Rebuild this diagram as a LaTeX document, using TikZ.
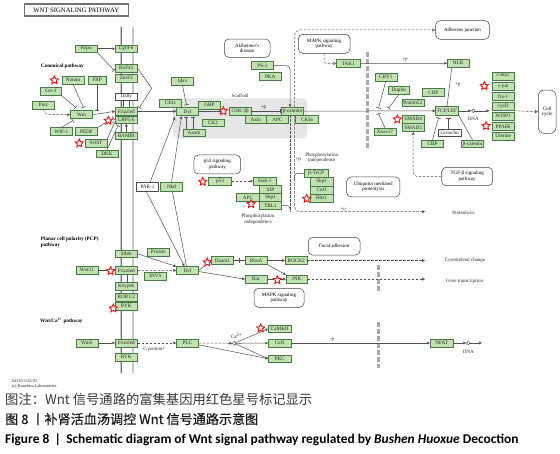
\documentclass[tikz,border=0pt]{standalone}
\usepackage{fontspec}
\usetikzlibrary{arrows.meta,shapes.geometric}
\setmainfont{Liberation Serif}
\newfontfamily\kf{Liberation Serif}
\newfontfamily\cjkf{Noto Sans CJK SC}
\newfontfamily\capf{Carlito}
\definecolor{boxg}{RGB}{191,226,176}
\definecolor{boxd}{RGB}{72,122,72}
\definecolor{lnc}{RGB}{80,80,80}
\definecolor{scaf}{RGB}{230,230,230}
\definecolor{memg}{RGB}{170,170,170}
\definecolor{kred}{RGB}{235,20,20}
\begin{document}
\begin{tikzpicture}[x=1pt,y=-1pt,
 gb/.style={draw=boxd, fill=boxg, line width=0.5pt, minimum width=22pt, minimum height=7.6pt, inner sep=0pt, font=\kf\fontsize{5.2}{5.6}\selectfont, text=black!85},
 wb/.style={gb, fill=white, draw=black!70},
 mb/.style={draw=black!75, line width=0.5pt, rounded corners=4.5pt, fill=white, align=center, inner sep=0pt, font=\kf\fontsize{5}{5.6}\selectfont},
 tx/.style={font=\kf\fontsize{5}{5.6}\selectfont, inner sep=0pt, align=center, text=black!85},
 bt/.style={font=\kf\bfseries\fontsize{5.2}{5.8}\selectfont, inner sep=0pt, align=left, anchor=west},
 ks/.style={star, star points=5, star point ratio=2.1, draw=kred, fill=white, line width=0.9pt, minimum size=8.5pt, inner sep=0pt},
 dn/.style={circle, draw=lnc, fill=white, line width=0.5pt, minimum size=3.6pt, inner sep=0pt},
 cn/.style={draw=lnc, line width=0.5pt},
 ar/.style={cn, -{Triangle[length=2.8pt,width=2.6pt]}},
 ih/.style={cn, -{Bar[width=4.5pt,line width=0.6pt]}},
 da/.style={cn, dash pattern=on 2.5pt off 1.5pt},
 dar/.style={da, -{Triangle[length=2.8pt,width=2.6pt]}},
 dop/.style={da, -{Triangle[open,length=3pt,width=3pt,line width=0.5pt]}},
 gd/.style={draw=memg, line width=2.6pt, dash pattern=on 5pt off 2pt},
]
\useasboundingbox (0,0) rectangle (560,454);
\fill[white] (0,0) rectangle (560,454);

% scaffold region
\fill[scaf, rounded corners=6pt] (173,98.3) rectangle (307.3,138.3);
% membranes
\foreach \mx in {120.8,133} {
  \draw[line width=2.6pt, black!55] (\mx,27) -- (\mx,373);
  \draw[line width=1.2pt, black!22] (\mx,27) -- (\mx,373);
}
% nuclear membrane
\draw[gd] (367.3,52) -- (367.3,150);
\draw[gd] (378.3,265) -- (378.3,293);
\draw[gd] (378.3,322) -- (378.3,368);

% title
\node[draw=black!55, line width=1.1pt, minimum width=104pt, minimum height=12pt, inner sep=0pt, font=\kf\fontsize{6.7}{7}\selectfont] (title) at (76.2,10) {WNT SIGNALING PATHWAY};

% ---------- map links ----------
\node[mb, minimum width=45.7pt, minimum height=18.3pt] (alz) at (247.2,48.2) {Alzheimer's\\disease};
\node[mb, minimum width=51.7pt, minimum height=19pt] (mapk1) at (324.2,43.8) {MAPK signaling\\pathway};
\node[mb, minimum width=53.6pt, minimum height=18.6pt] (adh) at (462.5,30) {Adherens junction};
\node[mb, minimum width=17.7pt, minimum height=43.3pt, rounded corners=6pt] (cellc) at (547.2,111.7) {Cell\\cycle};
\node[mb, minimum width=46.7pt, minimum height=19pt] (p53p) at (217.3,164.5) {p53 signaling\\pathway};
\node[mb, minimum width=53.3pt, minimum height=20pt] (ubq) at (373.3,187) {Ubiquitin mediated\\proteolysis};
\node[mb, minimum width=51pt, minimum height=18.4pt] (tgf) at (467.2,176.5) {TGF-β signaling\\pathway};
\node[mb, minimum width=51.7pt, minimum height=17.7pt] (focal) at (334.2,246.2) {Focal adhesion};
\node[mb, minimum width=50pt, minimum height=19pt] (mapk2) at (279,297.8) {MAPK signaling\\pathway};

% ---------- canonical ----------
\node[gb] (rspo) at (86.3,48.7) {Rspo};
\node[gb] (lgr) at (126.3,48.7) {Lgr4-6};
\node[gb] (rnf) at (126.3,68) {RnF43};
\node[gb] (znrf) at (126.3,78.3) {ZnrF3};
\node[gb] (notum) at (73,80) {Notum};
\node[gb, minimum width=17.7pt] (frp) at (97.2,80) {FRP};
\node[gb, minimum width=20.3pt] (cer) at (50.8,91.2) {Cer-1};
\node[wb, minimum height=6.8pt] (dally) at (126.3,96.7) {Dally};
\node[gb] (porc) at (43.7,105) {Porc};
\node[gb, minimum height=8pt] (wnt) at (81.5,114.7) {Wnt};
\node[gb] (fz1) at (126.3,111.3) {Frizzled};
\node[gb] (lrp) at (126.3,119.7) {LRP5/6};
\node[gb] (wif) at (61.3,131.5) {WIF-1};
\node[gb] (pedf) at (86.5,131.5) {PEDF};
\node[gb] (bambi) at (126.3,135.8) {BAMBI};
\node[gb] (sost) at (96,143) {SOST};
\node[gb] (dkk) at (107,153.7) {DKK};
\node[gb, minimum width=21.6pt, minimum height=7.8pt] (idax) at (182.5,81.2) {Idax};
\node[gb] (ckie) at (170.5,103.2) {CKIε};
\node[gb] (dvl) at (187.5,111.3) {Dvl};
\node[gb, minimum height=8pt] (gbp) at (209.5,105) {GBP};
\node[gb] (ck2) at (212.8,122.8) {CK2};
\node[gb] (axam) at (194,132.8) {Axam};
\node[gb] (gsk) at (240.2,111.2) {GSK-3β};
\node[gb, minimum width=21.7pt] (axin) at (255.8,119.5) {Axin};
\node[gb, minimum width=21.7pt] (apc) at (277.5,119.5) {APC};
\node[gb] (bcat) at (292.5,111.2) {β-catenin};
\node[gb, minimum width=22.6pt] (ckia) at (307,119.5) {CKIα};
\node[gb] (ps1) at (262.5,65.5) {PS-1};
\node[gb, minimum height=8.2pt] (pka) at (270.2,76.5) {PKA};
\node[gb, minimum width=23.3pt] (tak1) at (348.3,63.5) {TAK1};
\node[gb] (nlk) at (458.3,63.3) {NLK};
\node[gb] (cby) at (385.8,77.2) {CBY1};
\node[gb, minimum width=21pt] (duplin) at (398.8,90.5) {Duplin};
\node[gb, minimum width=21.3pt, minimum height=8.2pt] (cbp1) at (433.3,92.5) {CBP};
\node[gb] (pontin) at (412.8,102.8) {Pontin52};
\node[gb, minimum width=22.6pt, minimum height=8.2pt] (tcf) at (447,110.8) {TCF/LEF};
\node[gb, minimum width=21.7pt, minimum height=8.3pt] (smad4) at (413.2,119.2) {SMAD4};
\node[gb, minimum width=21.7pt, minimum height=8.3pt] (smad3) at (413.2,127.5) {SMAD3};
\node[gb] (sox) at (385,131.7) {Xsox17};
\node[wb, minimum width=22.7pt] (groucho) at (449.7,132.8) {Groucho};
\node[gb, minimum width=21.6pt] (cbp2) at (432.5,143.8) {CBP};
\node[gb, minimum width=21.6pt] (bcat2) at (472.5,143.8) {β-catenin};
% target genes
\node[gb, minimum width=21.7pt, minimum height=7.7pt] (myc) at (503.2,76.2) {c-myc};
\node[gb, minimum width=21.7pt, minimum height=7.7pt] (jun) at (503.2,86.2) {c-jun};
\node[gb, minimum width=21.7pt, minimum height=7.7pt] (fra) at (503.2,96.3) {fra-1};
\node[gb, minimum width=21.7pt, minimum height=7.7pt] (cycd) at (503.2,106.3) {cycD};
\node[gb, minimum width=21.7pt, minimum height=7.7pt] (wisp) at (503.2,116.3) {WISP1};
\node[gb, minimum width=21.7pt, minimum height=7.7pt] (ppar) at (503.2,126.3) {PPARδ};
\node[gb, minimum width=21.7pt, minimum height=7.7pt] (uter) at (503.2,136.3) {Uterine};

% ---------- middle ----------
\node[wb, minimum width=21.6pt, minimum height=9pt] (par1) at (147.5,187.2) {PAR-1};
\node[gb, minimum width=21.6pt, minimum height=9pt] (nkd) at (171.5,187.2) {Nkd};
\node[gb, minimum width=23.3pt] (p53) at (220,181.2) {p53};
\node[gb, minimum width=22.7pt] (siah) at (264.7,181.2) {Siah-1};
\node[gb, minimum height=8pt] (sip) at (270.5,189.5) {SIP};
\node[gb, minimum width=22.6pt, minimum height=8.3pt] (apc2) at (248,197.5) {APC};
\node[gb, minimum height=8.3pt] (skp1a) at (270.5,197.5) {Skp1};
\node[gb, minimum height=7.8pt] (tbl1) at (270.5,205.5) {TBL1};
\node[gb, minimum width=24.3pt, minimum height=8pt] (btrcp) at (316.2,173.3) {β-TrCP};
\node[gb, minimum width=23.3pt, minimum height=8.3pt] (skp1b) at (321.7,181.7) {Skp1};
\node[gb, minimum width=23.3pt, minimum height=8.3pt] (cul1) at (321.7,190) {Cul1};
\node[gb, minimum width=23.3pt, minimum height=8.3pt] (rbx1) at (321.7,198.2) {Rbx1};

% ---------- PCP ----------
\node[gb] (stbm) at (126.3,253.8) {Stbm};
\node[gb] (prickle) at (158.3,252.2) {Prickle};
\node[gb] (wnt11) at (86.8,270.3) {Wnt11};
\node[gb] (fz2) at (126.3,270.3) {Frizzled};
\node[gb] (invs) at (155.5,276.3) {INVS};
\node[gb] (dvl2) at (187.5,270.5) {Dvl};
\node[gb] (knypek) at (126.3,286.3) {Knypek};
\node[gb] (ror) at (126.3,297) {ROR1/2};
\node[gb] (ryk1) at (126.3,306.2) {RYK};
\node[gb] (daam) at (222.5,260.5) {Daam1};
\node[gb] (rhoa) at (256.2,260.5) {RhoA};
\node[gb] (rock) at (296.2,260.5) {ROCK2};
\node[gb, minimum height=8.3pt] (rac) at (256.2,279.2) {Rac};
\node[gb, minimum width=21.3pt, minimum height=8.3pt] (jnk) at (296.7,279.2) {JNK};

% ---------- Ca2+ ----------
\node[gb] (wnt5) at (86.8,343) {Wnt5};
\node[gb] (fz3) at (126.3,343) {Frizzled};
\node[gb] (ryk2) at (126.3,357.2) {RYK};
\node[gb] (plc) at (187.5,343) {PLC};
\node[gb, minimum width=22.7pt] (camk) at (279.7,328.8) {CaMKII};
\node[gb, minimum width=22.7pt] (can) at (279.7,343) {CaN};
\node[gb, minimum width=22.7pt] (pkc) at (279.7,358.7) {PKC};
\node[gb, minimum width=23.3pt] (nfat) at (441.7,343) {NFAT};
\node[dn] (ca) at (234.3,343.3) {};
\node[dn] (dna1) at (473.3,110.8) {};
\node[dn] (dna2) at (468.3,343) {};

% ---------- labels ----------
\node[bt] (lcan) at (40.7,66) {Canonical pathway};
\node[bt] (lpcp) at (40.7,242.5) {Planar cell polarity (PCP)\\pathway};
\node[bt] (lca) at (40,320.7) {Wnt/Ca\textsuperscript{2+} pathway};
\node[tx] (lscaf) at (240,96) {Scaffold};
\node[tx] (lp1) at (263.5,107.6) {+p};
\node[tx] (lphos1) at (321.7,158) {Phosphorylation\\independence};
\node[tx] (lp2) at (298.3,159.5) {+p};
\node[tx] (lphos2) at (258,219) {Phosphorylation\\independence};
\node[tx] (lu) at (343.3,209.3) {+u};
\node[tx] (lprot) at (463.5,213.3) {Proteolysis};
\node[tx] (lcyto) at (465,260.7) {Cytoskeletal change};
\node[tx] (lgene) at (464.5,281) {Gene transcription};
\node[tx] (lgp) at (154,349.5) {G protein?};
\node[tx] (lcaion) at (236.7,336.3) {Ca\textsuperscript{2+}};
\node[tx] (lmp) at (332,340.3) {-p};
\node[tx] (ldna1) at (473.3,118.7) {DNA};
\node[tx] (ldna2) at (468.3,351.7) {DNA};
\node[tx] (lp3) at (405,59.5) {+p};
\node[tx] (lp4) at (457.7,85) {+p};
\node[tx, align=left, anchor=west, font=\kf\fontsize{4.3}{5.4}\selectfont] (lkegg) at (11.7,384) {04310 3/12/20\\(c) Kanehisa Laboratories};

% ---------- free ends ----------
\coordinate (cRnf) at (114.2,70.3);
\coordinate (cBend) at (151.7,88.3);
\coordinate (cFz) at (139.3,107.8);
\coordinate (cNotum) at (83.5,107.6);
\coordinate (cFrp) at (97.2,110.6);
\coordinate (cCer) at (75.8,107.6);
\coordinate (cWif) at (73,120.5);
\coordinate (cPedf) at (113.8,118);
\coordinate (cSost) at (114.6,122.8);
\coordinate (cDkk) at (118.2,125.4);
\coordinate (cIdax) at (186.5,105);
\coordinate (cGsk) at (220.6,111.3);
\coordinate (cProt) at (425,211.7);
\coordinate (cJoin) at (290,211.7);
\coordinate (cTr) at (294.5,180);
\coordinate (cCby) at (378.5,108.3);
\coordinate (cDup) at (388.5,108.3);
\coordinate (cSox) at (378.5,113.6);
\coordinate (cT1) at (438.5,117.8);
\coordinate (cT2) at (448.5,117.8);
\coordinate (cTg) at (489.4,110.8);
\coordinate (cTgE) at (514.2,110.8);
\coordinate (cPar) at (175,117);
\coordinate (cNkd) at (181.5,116.2);
\coordinate (cCyto) at (425,260.5);
\coordinate (cGene) at (425,279.2);
\coordinate (cDna2) at (482,343);

% ---------- connectors: canonical ----------
\draw[ar] (rspo) -- (lgr);
\draw[ih] (rspo.south east) -- (cRnf);
\draw[ih] (rnf.east) -- (cBend) -- (cFz);
\draw[ih] (notum.south) -- (cNotum);
\draw[ih] (frp.south) -- (cFrp);
\draw[ih] (cer.south east) -- (cCer);
\draw[dar] (porc.south) .. controls (44,114.7) .. (wnt.west);
\draw[ar] (wnt.east) -- (fz1.west);
\draw[ih] (wif.north) -- (cWif);
\draw[ih] (pedf.north east) -- (cPedf);
\draw[ih] (sost.north east) -- (cSost);
\draw[ih] (dkk.north) -- (cDkk);
\draw[ar] (bambi) -- (lrp);
\draw[cn] ([xshift=-3pt]dally.south) -- ([xshift=-3pt]fz1.north);
\draw[cn] ([xshift=3pt]dally.south) -- ([xshift=3pt]fz1.north);
\draw[ar] (fz1.east) -- (dvl.west);
\draw[ih] (idax.south) -- (cIdax);
\draw[ih] ([xshift=-8pt]axam.north) -- ([xshift=-1.5pt,yshift=-1.6pt]dvl.south);
\draw[ih] ([xshift=-1pt]axam.north) -- ([xshift=5.5pt,yshift=-1.6pt]dvl.south);
\draw[ih] (dvl.east) -- (cGsk);
\draw[ih] (gsk.east) -- ([xshift=-1pt]bcat.west);
\draw[ar, rounded corners=4pt] (ps1.east) -| ([xshift=-2.5pt]bcat.north);
\draw[dop, rounded corners=5pt] ([xshift=2pt]bcat.north) |- (adh.west);
\draw[dar, rounded corners=5pt] ([xshift=2pt]bcat.south) |- (cProt);
\draw[da] ([xshift=-2.5pt]bcat.south) -- (cJoin);
\draw[cn, rounded corners=3pt] (tbl1.east) -| (cJoin);
\draw[cn, rounded corners=3pt] (btrcp.west) -| (cTr);
\draw[dar] (p53) -- (siah);
\draw[dop, rounded corners=3pt] (mapk1.south) |- (tak1.west);
\draw[ar] (tak1) -- (nlk);
\draw[ih] ([xshift=-6.5pt]nlk.south) -- (tcf.north);
\draw[ar] (bcat.east) -- (tcf.west);
\draw[ih] (cby.south) -- (cCby);
\draw[ih] (duplin.south) -- (cDup);
\draw[ih] (sox.north) -- (cSox);
\draw[dop, rounded corners=4pt] (tgf.west) -| (smad3.south);
\draw[ih] (cbp2.north) -- (cT1);
\draw[ih] ([xshift=-1.2pt]groucho.north) -- (cT2);
\draw[cn] (bcat2.north) -- (tcf.south east);
\draw[ar] (tcf.east) -- (dna1.west);
\draw[ar] (dna1.east) -- (cTg);
\draw[dop] (cTgE) -- (cellc.west);
\draw[ar] ([xshift=2.5pt]par1.north) -- (cPar);
\draw[ar] (nkd.north) -- (cNkd);

% ---------- connectors: PCP ----------
\draw[ar] ([xshift=-1pt]par1.south) -- ([xshift=-3pt]dvl2.north);
\draw[cn] ([xshift=1pt]nkd.south) -- ([xshift=-1pt]dvl2.north);
\draw[ar] (stbm.east) -- (dvl2.north west);
\draw[ar] (wnt11) -- (fz2);
\draw[dar] (fz2) -- (dvl2);
\draw[cn] ([xshift=0.5pt]fz2.south) -- ([xshift=0.5pt]knypek.north);
\draw[ar] (dvl2.east) -- (daam.west);
\draw[ar] ([yshift=-1pt]dvl2.east) -- (rac.west);
\draw[cn] (daam) -- (rhoa);
\draw[cn] (239.2,258) -- (239.2,263);
\draw[ar] (rhoa) -- (rock);
\draw[ar] (rhoa.south east) -- (jnk.north west);
\draw[ar] (rac) -- (jnk);
\draw[dar] (rock.east) -- (cCyto);
\draw[dar] (jnk.east) -- (cGene);

% ---------- connectors: Ca2+ ----------
\draw[ar] (wnt5) -- (fz3);
\draw[dar] (fz3) -- (plc);
\draw[dar] (plc) -- (ca);
\draw[ar] ([yshift=-1.8pt]plc.east) -- (pkc.west);
\draw[ar] (ca) -- (camk.west);
\draw[ar] (ca) -- (can);
\draw[ar] (ca) -- (pkc.west);
\draw[ar] (can) -- (nfat);
\draw[ar] (nfat) -- (dna2);
\draw[ar] (dna2) -- (cDna2);

% ---------- stars ----------
\node[ks] (s1) at (54.3,80.3) {};
\node[ks] (s2) at (108.3,120.7) {};
\node[ks] (s3) at (79.3,143.3) {};
\node[ks] (s4) at (223.3,111) {};
\node[ks] (s5) at (202.7,181.7) {};
\node[ks] (s6) at (251,204) {};
\node[ks] (s7) at (306.7,198.7) {};
\node[ks] (s8) at (397.3,119.3) {};
\node[ks] (s9) at (484.3,86) {};
\node[ks] (s10) at (486,126) {};
\node[ks] (s11) at (110.7,271) {};
\node[ks] (s12) at (113.3,308.3) {};
\node[ks] (s13) at (207.3,262.3) {};
\node[ks] (s14) at (277.3,280) {};
\node[ks] (s15) at (260.7,328.3) {};

% ---------- captions ----------
\node[anchor=west, inner sep=0pt, font=\cjkf\fontsize{13.3}{15}\selectfont, text=black!78] (cap1) at (5,399) {图注：Wnt 信号通路的富集基因用红色星号标记显示};
\node[anchor=west, inner sep=0pt, font=\cjkf\addfontfeature{FakeBold=0.3}\fontsize{13.1}{15}\selectfont, text=black!90] (cap2) at (5,419) {图 8 丨补肾活血汤调控 Wnt 信号通路示意图};
\node[anchor=west, inner sep=0pt, font=\capf\bfseries\fontsize{13.4}{15}\selectfont, text=black] (cap3) at (5,440) {Figure 8 \,|\, Schematic diagram of Wnt signal pathway regulated by \textit{Bushen Huoxue} Decoction};
\end{tikzpicture}
\end{document}
